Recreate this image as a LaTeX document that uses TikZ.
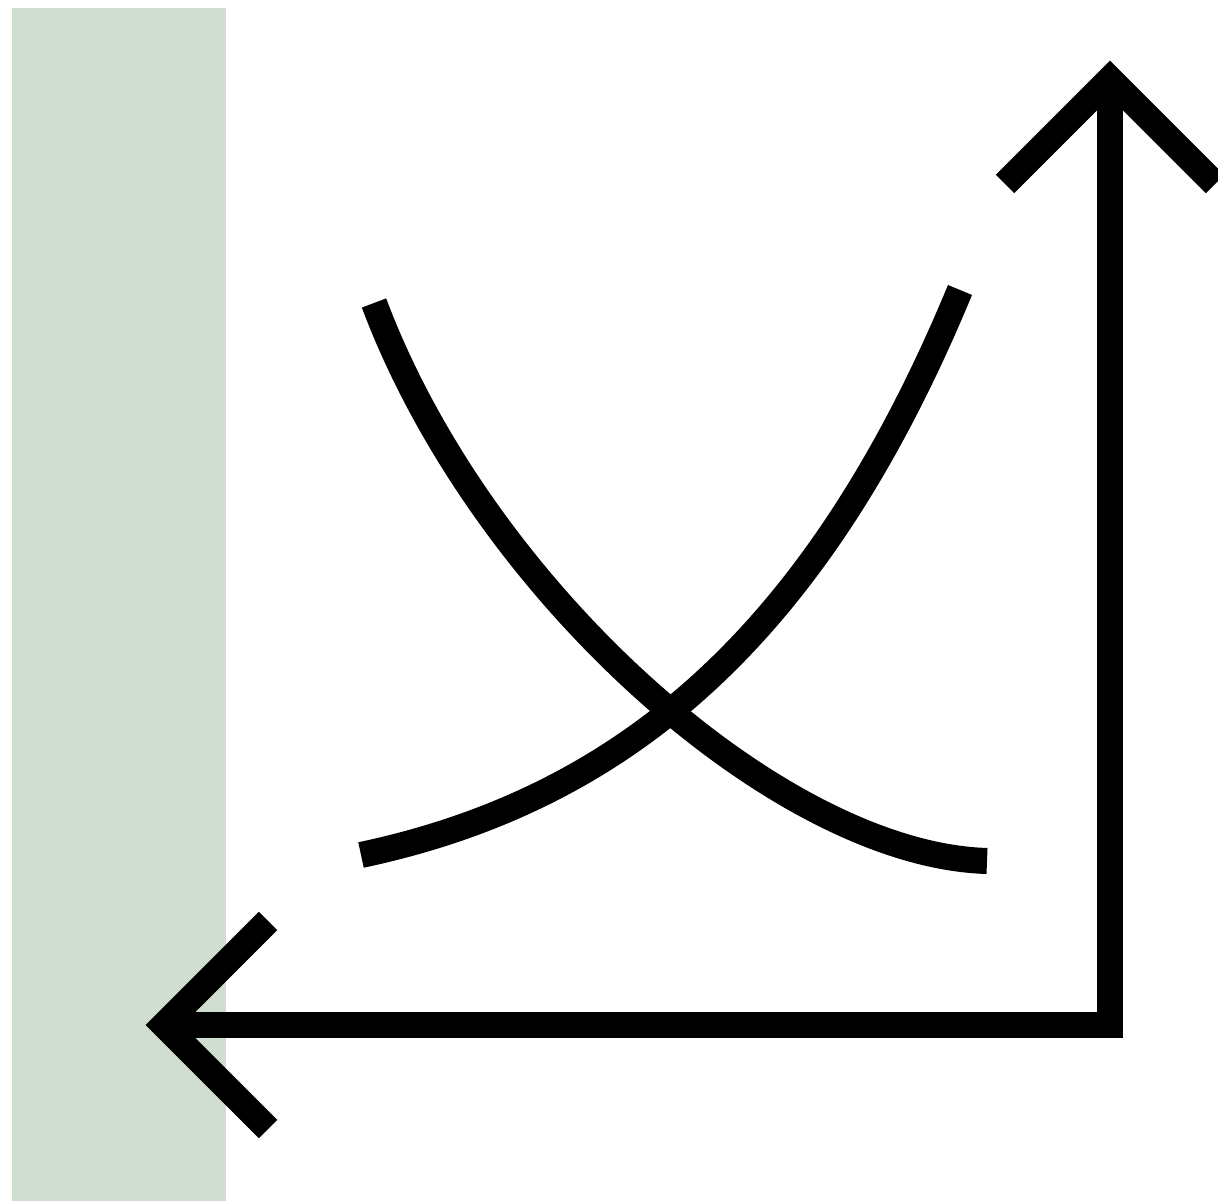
\documentclass[tikz,border=0pt]{standalone}
\usepackage{tikz}
\usetikzlibrary{calc}
\definecolor{sage}{RGB}{207, 222, 209}

\begin{document}
\begin{tikzpicture}[
  x=0.01cm, y=-0.01cm,
  stroke/.style={draw=black, line width=2.6mm, miter limit=10},
  axisline/.style={stroke, line join=miter},
  curveline/.style={stroke, line cap=butt}
]
\useasboundingbox (0,0) rectangle (1218,1201);
% side bar
\fill[sage] (12,8) rectangle (226,1201);
% axes
\coordinate (corner) at (1110,1025);
\coordinate (ytip) at (1110,79);
\coordinate (xtip) at (164,1025);
\draw[axisline] (xtip) -- (corner) -- (ytip);
\draw[axisline] ($(ytip)+(-105,105)$) -- (ytip) -- ($(ytip)+(105,105)$);
\draw[axisline] ($(xtip)+(104,-104)$) -- (xtip) -- ($(xtip)+(104,104)$);
% crossing curves
\coordinate (fallstart) at (374,303);
\coordinate (fallend) at (987,861);
\coordinate (risestart) at (361,855);
\coordinate (riseend) at (960,290);
\draw[curveline] (fallstart) .. controls (482,591) and (780,855) .. (fallend);
\draw[curveline] (risestart) .. controls (620,800) and (815,640) .. (riseend);
\end{tikzpicture}
\end{document}
